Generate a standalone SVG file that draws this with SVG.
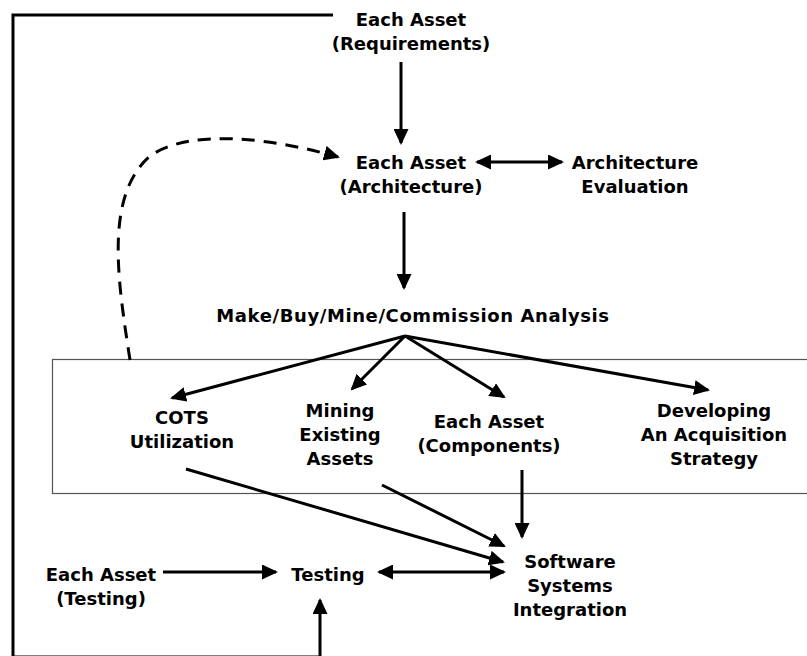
<svg xmlns="http://www.w3.org/2000/svg" width="807" height="656" viewBox="0 0 807 656">
<defs>
<style>
text{font-family:"DejaVu Sans","Verdana",sans-serif;font-weight:bold;font-size:18px;fill:#000;text-anchor:middle}
.c{fill:none;stroke:#000;stroke-width:3}
.d{stroke-dasharray:13 9}
</style>
<marker id="ah" viewBox="0 0 16 15" refX="14" refY="7.5" markerWidth="16" markerHeight="15" markerUnits="userSpaceOnUse" orient="auto-start-reverse">
<path d="M0,0 L16,7.5 L0,15 z" fill="#000"/>
</marker>
</defs>
<rect width="807" height="656" fill="#fff"/>
<rect id="frame" x="52.5" y="359.5" width="800" height="134" fill="none" stroke="#555" stroke-width="1.2"/>
<g id="connectors">
<path class="c" d="M333,15 H13 V657 H320 V600" marker-end="url(#ah)"/>
<path class="c" d="M401,62 V143" marker-end="url(#ah)"/>
<path class="c" d="M477,162 H562" marker-start="url(#ah)" marker-end="url(#ah)"/>
<path class="c" d="M404,212 V288" marker-end="url(#ah)"/>
<path class="c d" d="M130,360 C118,282 104,196 150,156 C190,128 272,138 338,157" marker-end="url(#ah)"/>
<path class="c" d="M405,336 L172,398" marker-end="url(#ah)"/>
<path class="c" d="M405,336 L352,389" marker-end="url(#ah)"/>
<path class="c" d="M405,336 L504,397" marker-end="url(#ah)"/>
<path class="c" d="M405,336 L708,390" marker-end="url(#ah)"/>
<path class="c" d="M186,469 L503,562" marker-end="url(#ah)"/>
<path class="c" d="M382,485 L504,546" marker-end="url(#ah)"/>
<path class="c" d="M522,470 V537" marker-end="url(#ah)"/>
<path class="c" d="M163,572 H276" marker-end="url(#ah)"/>
<path class="c" d="M379,572 H504" marker-start="url(#ah)" marker-end="url(#ah)"/>
</g>
<g id="req"><text x="411" y="26">Each Asset</text><text x="411" y="50">(Requirements)</text></g>
<g id="arch"><text x="411" y="169">Each Asset</text><text x="411" y="193">(Architecture)</text></g>
<g id="eval"><text x="635" y="169">Architecture</text><text x="635" y="193">Evaluation</text></g>
<g id="mbmc"><text x="413" y="322" letter-spacing="0.6">Make/Buy/Mine/Commission Analysis</text></g>
<g id="cots"><text x="182" y="424">COTS</text><text x="182" y="448">Utilization</text></g>
<g id="mining"><text x="340" y="417">Mining</text><text x="340" y="441">Existing</text><text x="340" y="465">Assets</text></g>
<g id="comp"><text x="489" y="428">Each Asset</text><text x="489" y="452">(Components)</text></g>
<g id="acq"><text x="714" y="417">Developing</text><text x="714" y="441">An Acquisition</text><text x="714" y="465">Strategy</text></g>
<g id="testasset"><text x="101" y="581">Each Asset</text><text x="101" y="605">(Testing)</text></g>
<g id="testing"><text x="328" y="581">Testing</text></g>
<g id="ssi"><text x="570" y="568">Software</text><text x="570" y="592">Systems</text><text x="570" y="616">Integration</text></g>
</svg>
